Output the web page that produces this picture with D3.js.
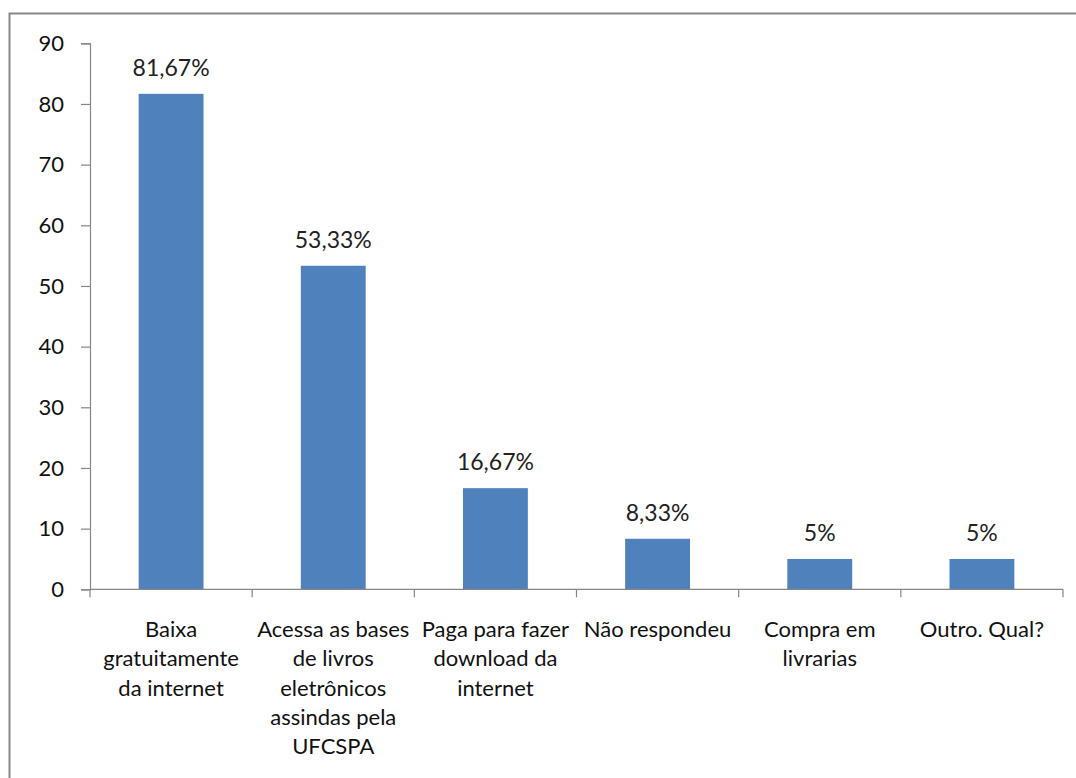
<!DOCTYPE html>
<html>
<head>
<meta charset="utf-8">
<script src="https://cdn.jsdelivr.net/npm/d3@7"></script>
<style>
  html, body { margin: 0; padding: 0; background: #fff; }
  svg { display: block; font-family: Lato, "Open Sans", sans-serif; }
</style>
</head>
<body>
<svg id="chart" width="1076" height="778"></svg>
<script>
// Category labels, already broken into lines as they appear under each bar
const categories = [
  ["Baixa", "gratuitamente", "da internet"],
  ["Acessa as bases", "de livros", "eletrônicos", "assindas pela", "UFCSPA"],
  ["Paga para fazer", "download da", "internet"],
  ["Não respondeu"],
  ["Compra em", "livrarias"],
  ["Outro. Qual?"]
];
const values = [81.67, 53.33, 16.67, 8.33, 5, 5];
const valueLabels = ["81,67%", "53,33%", "16,67%", "8,33%", "5%", "5%"];
const yTicks = [0, 10, 20, 30, 40, 50, 60, 70, 80, 90];

const svg = d3.select("#chart");
const W = 1076, H = 778;

// outer frame of the chart area (right and bottom run off the page)
svg.append("rect")
  .attr("x", 9.5).attr("y", 13.5)
  .attr("width", W + 20).attr("height", H + 20)
  .attr("fill", "#fff")
  .attr("stroke", "#888").attr("stroke-width", 2);

const plot = { left: 90, right: 1063, top: 43.3, bottom: 589.3 };

const x = d3.scaleBand()
  .domain(d3.range(categories.length))
  .range([plot.left, plot.right])
  .paddingInner(0.6).paddingOuter(0.3);
const band = d3.scaleBand()
  .domain(d3.range(categories.length))
  .range([plot.left, plot.right]);
const y = d3.scaleLinear().domain([0, 90]).range([plot.bottom, plot.top]);

const axisColor = "#868686";
const textColor = "#111";

// y axis
const yAxis = svg.append("g")
  .attr("transform", `translate(${plot.left},0)`)
  .call(d3.axisLeft(y).tickValues(yTicks).tickSize(9).tickPadding(17).tickFormat(d3.format("d")));
yAxis.select(".domain").attr("stroke", axisColor).attr("stroke-width", 1.2);
yAxis.selectAll(".tick line").attr("stroke", axisColor).attr("stroke-width", 1.2);
yAxis.selectAll(".tick text")
  .attr("fill", textColor).style("font-size", "22px").style("font-family", "Lato, sans-serif");

// bars
svg.append("g").selectAll("rect")
  .data(values)
  .join("rect")
  .attr("x", (d, i) => x(i))
  .attr("width", x.bandwidth())
  .attr("y", d => y(d))
  .attr("height", d => y(0) - y(d))
  .attr("fill", "#4F81BD");

// x axis with tick marks at the band boundaries
const xg = svg.append("g");
xg.append("line")
  .attr("x1", plot.left).attr("x2", plot.right)
  .attr("y1", y(0)).attr("y2", y(0))
  .attr("stroke", axisColor).attr("stroke-width", 1.2);
const bounds = d3.range(categories.length + 1).map(i =>
  i < categories.length ? band(i) : band(i - 1) + band.bandwidth());
xg.selectAll("line.tk")
  .data(bounds)
  .join("line")
  .attr("class", "tk")
  .attr("x1", d => d).attr("x2", d => d)
  .attr("y1", y(0)).attr("y2", y(0) + 8)
  .attr("stroke", axisColor).attr("stroke-width", 1.2);

// value labels above bars
svg.append("g").selectAll("text")
  .data(values)
  .join("text")
  .attr("x", (d, i) => x(i) + x.bandwidth() / 2)
  .attr("y", d => y(d) - 18)
  .attr("text-anchor", "middle")
  .attr("fill", "#222")
  .style("font-size", "23px")
  .text((d, i) => valueLabels[i]);

// category labels
const cat = svg.append("g").selectAll("text")
  .data(categories)
  .join("text")
  .attr("x", (d, i) => band(i) + band.bandwidth() / 2)
  .attr("y", 637)
  .attr("text-anchor", "middle")
  .attr("fill", textColor)
  .style("font-size", "22px");
cat.selectAll("tspan")
  .data(d => d)
  .join("tspan")
  .attr("x", function() { return d3.select(this.parentNode).attr("x"); })
  .attr("dy", (d, j) => j === 0 ? 0 : 29.3)
  .text(d => d);
</script>
</body>
</html>
